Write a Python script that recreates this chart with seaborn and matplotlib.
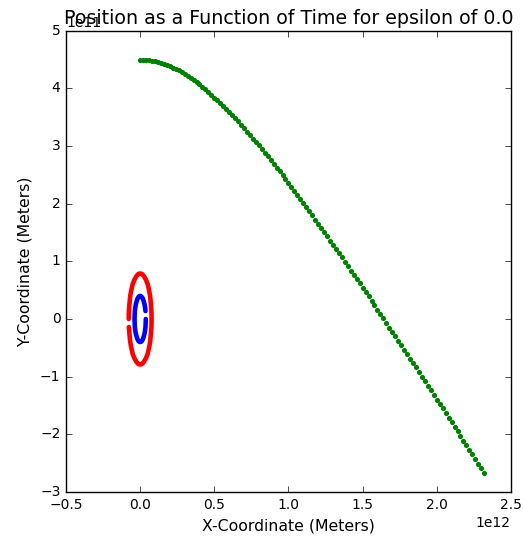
import numpy as np
import matplotlib
matplotlib.use('Agg')
import matplotlib.pyplot as plt
import seaborn as sns

# green body path: x in units of 1e12 m, y in units of 1e11 m
green_x = [0.00, 0.02, 0.04, 0.06, 0.08, 0.10, 0.12, 0.14, 0.16, 0.18,
           0.20, 0.22, 0.24, 0.26, 0.28, 0.30, 0.32, 0.34, 0.36, 0.38,
           0.40, 0.42, 0.44, 0.46, 0.48, 0.50, 0.52, 0.54, 0.56, 0.58,
           0.60, 0.62, 0.64, 0.66, 0.68, 0.70, 0.72, 0.74, 0.76, 0.78,
           0.80, 0.82, 0.84, 0.86, 0.88, 0.90, 0.92, 0.94, 0.96, 0.98,
           1.00, 1.02, 1.04, 1.06, 1.08, 1.10, 1.12, 1.14, 1.16, 1.18,
           1.20, 1.22, 1.24, 1.26, 1.28, 1.30, 1.32, 1.34, 1.36, 1.38,
           1.40, 1.42, 1.44, 1.46, 1.48, 1.50, 1.52, 1.54, 1.56, 1.58,
           1.60, 1.62, 1.64, 1.66, 1.68, 1.70, 1.72, 1.74, 1.76, 1.78,
           1.80, 1.82, 1.84, 1.86, 1.88, 1.90, 1.92, 1.94, 1.96, 1.98,
           2.00, 2.02, 2.04, 2.06, 2.08, 2.10, 2.12, 2.14, 2.16, 2.18,
           2.20, 2.22, 2.24, 2.26, 2.28, 2.30, 2.32]
green_y = [4.50, 4.50, 4.50, 4.49, 4.48, 4.47, 4.46, 4.44, 4.43, 4.41,
           4.39, 4.36, 4.34, 4.31, 4.28, 4.25, 4.22, 4.18, 4.14, 4.11,
           4.07, 4.02, 3.98, 3.94, 3.89, 3.84, 3.80, 3.75, 3.70, 3.64,
           3.59, 3.54, 3.48, 3.43, 3.37, 3.31, 3.25, 3.19, 3.13, 3.07,
           3.01, 2.95, 2.88, 2.82, 2.75, 2.69, 2.62, 2.56, 2.49, 2.42,
           2.35, 2.29, 2.22, 2.15, 2.08, 2.01, 1.94, 1.87, 1.80, 1.72,
           1.65, 1.58, 1.51, 1.44, 1.36, 1.29, 1.22, 1.14, 1.07, 0.99,
           0.92, 0.84, 0.77, 0.69, 0.62, 0.54, 0.47, 0.39, 0.32, 0.24,
           0.16, 0.09, 0.01, -0.07, -0.15, -0.22, -0.30, -0.38, -0.45, -0.53,
           -0.61, -0.69, -0.77, -0.84, -0.92, -1.00, -1.08, -1.16, -1.24, -1.32,
           -1.40, -1.47, -1.55, -1.63, -1.71, -1.79, -1.87, -1.95, -2.03, -2.11,
           -2.19, -2.27, -2.35, -2.43, -2.51, -2.59, -2.67]

# outer orbit (red)
red_x = [-0.076, -0.072, -0.067, -0.059, -0.050, -0.039, -0.026, -0.013, 0.000,
         0.013, 0.026, 0.039, 0.050, 0.059, 0.067, 0.072, 0.076, 0.077,
         0.076, 0.072, 0.067, 0.059, 0.050, 0.039, 0.026, 0.013, 0.000,
         -0.013, -0.026, -0.039, -0.050, -0.059, -0.067, -0.072, -0.076, -0.077]
red_y = [-0.14, -0.27, -0.40, -0.51, -0.61, -0.68, -0.74, -0.78, -0.79,
         -0.78, -0.74, -0.68, -0.61, -0.51, -0.40, -0.27, -0.14, 0.00,
         0.14, 0.27, 0.40, 0.51, 0.61, 0.68, 0.74, 0.78, 0.79,
         0.78, 0.74, 0.68, 0.61, 0.51, 0.40, 0.27, 0.14, 0.00]

# inner orbit (blue)
blue_x = [0.036, 0.033, 0.029, 0.024, 0.019, 0.013, 0.007, 0.000,
          -0.007, -0.013, -0.019, -0.024, -0.029, -0.033, -0.036, -0.037, -0.038,
          -0.037, -0.036, -0.033, -0.029, -0.024, -0.019, -0.013, -0.007, 0.000,
          0.007, 0.013, 0.019, 0.024, 0.029, 0.033, 0.036, 0.037, 0.038]
blue_y = [0.137, 0.200, 0.257, 0.306, 0.346, 0.376, 0.394, 0.400,
          0.394, 0.376, 0.346, 0.306, 0.257, 0.200, 0.137, 0.070, 0.000,
          -0.070, -0.137, -0.200, -0.257, -0.306, -0.346, -0.376, -0.394, -0.400,
          -0.394, -0.376, -0.346, -0.306, -0.257, -0.200, -0.137, -0.070, 0.000]

X_SCALE = 1e12
Y_SCALE = 1e11

plt.style.use('classic')
plt.rcParams['figure.facecolor'] = 'white'
plt.rcParams['savefig.facecolor'] = 'white'
plt.rcParams['font.family'] = ['DejaVu Sans']
plt.rcParams['font.size'] = 10
plt.rcParams['xtick.labelsize'] = 10
plt.rcParams['ytick.labelsize'] = 10

fig, ax = plt.subplots(figsize=(5.24, 5.42), dpi=100)
fig.subplots_adjust(left=0.126, right=0.975, bottom=0.0923, top=0.9434)

sns.lineplot(x=np.array(red_x) * X_SCALE, y=np.array(red_y) * Y_SCALE, sort=False,
             estimator=None, color='r', linewidth=3.3, solid_capstyle='round', ax=ax)
sns.lineplot(x=np.array(blue_x) * X_SCALE, y=np.array(blue_y) * Y_SCALE, sort=False,
             estimator=None, color='b', linewidth=3.3, solid_capstyle='round', ax=ax)
sns.scatterplot(x=np.array(green_x) * X_SCALE, y=np.array(green_y) * Y_SCALE,
                color=(0, 0.5, 0), s=14, linewidth=0, ax=ax)

ax.set_xlim(-0.5e12, 2.5e12)
ax.set_ylim(-3e11, 5e11)
ax.set_xlabel('X-Coordinate (Meters)', fontsize=11.3)
ax.set_ylabel('Y-Coordinate (Meters)', fontsize=11.3)
ax.set_title('Position as a Function of Time for epsilon of 0.0', fontsize=13.7, y=1.0)

fig.savefig('out.png', dpi=100)
plt.close(fig)
